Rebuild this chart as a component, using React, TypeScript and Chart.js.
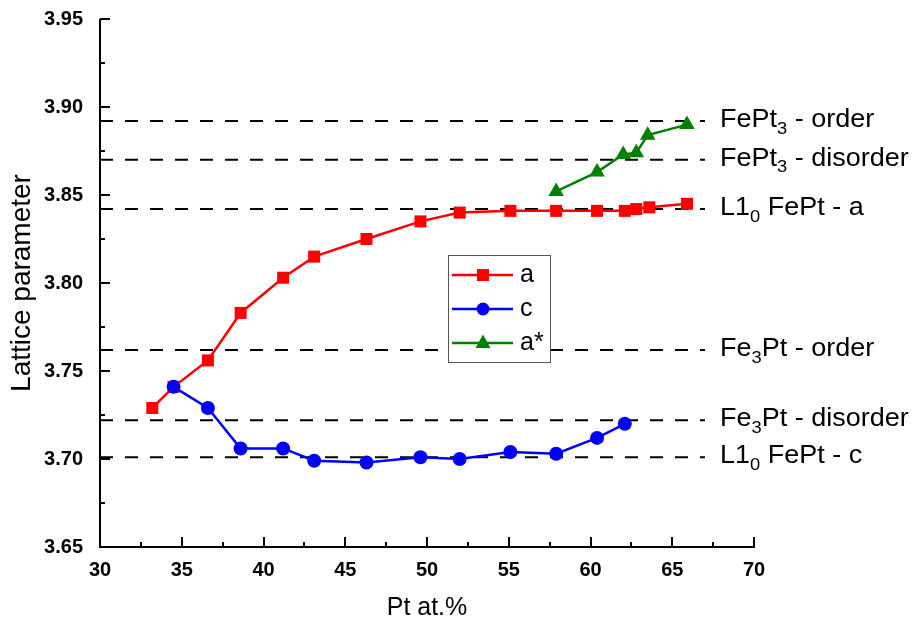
import { useEffect, useRef } from "react";
import { Chart, registerables } from "chart.js";

Chart.register(...registerables);

const FONT = "'Liberation Sans', Arial, sans-serif";

// Lattice parameter a (tetragonal / cubic) vs Pt content
const ptA = [33.2, 34.5, 36.6, 38.6, 41.2, 43.1, 46.3, 49.6, 52.0, 55.1, 57.9, 60.4, 62.1, 62.8, 63.6, 65.9];
const latA = [3.729, 3.741, 3.756, 3.783, 3.803, 3.815, 3.825, 3.835, 3.840, 3.841, 3.841, 3.841, 3.841, 3.842, 3.843, 3.845];

// Lattice parameter c
const ptC = [34.5, 36.6, 38.6, 41.2, 43.1, 46.3, 49.6, 52.0, 55.1, 57.9, 60.4, 62.1];
const latC = [3.741, 3.729, 3.706, 3.706, 3.699, 3.698, 3.701, 3.700, 3.704, 3.703, 3.712, 3.720];

// Lattice parameter a* (second phase)
const ptAStar = [57.9, 60.4, 62.0, 62.8, 63.5, 65.9];
const latAStar = [3.852, 3.863, 3.873, 3.874, 3.884, 3.890];

// Reference values of known phases
const refValues = [3.892, 3.870, 3.842, 3.762, 3.722, 3.701];
type Part = { t: string; sub?: boolean };
const refLabels: Part[][] = [
  [{ t: "FePt" }, { t: "3", sub: true }, { t: " - order" }],
  [{ t: "FePt" }, { t: "3", sub: true }, { t: " - disorder" }],
  [{ t: "L1" }, { t: "0", sub: true }, { t: " FePt - a" }],
  [{ t: "Fe" }, { t: "3", sub: true }, { t: "Pt - order" }],
  [{ t: "Fe" }, { t: "3", sub: true }, { t: "Pt - disorder" }],
  [{ t: "L1" }, { t: "0", sub: true }, { t: " FePt - c" }],
];
const refStart = 30;
const refEnd = 67;

const xMin = 30, xMax = 70, xStep = 5;
const yMin = 3.65, yMax = 3.95, yStep = 0.05;

const seriesNames = ["a", "c", "a*"];
const seriesColors = ["#ff0000", "#0000ff", "#008000"];
const seriesShapes = ["rect", "circle", "triangle"];

function drawMarker(ctx: CanvasRenderingContext2D, shape: string, x: number, y: number, color: string) {
  ctx.fillStyle = color;
  ctx.beginPath();
  if (shape === "rect") {
    ctx.rect(x - 6, y - 6, 12, 12);
  } else if (shape === "circle") {
    ctx.arc(x, y, 6.5, 0, Math.PI * 2);
  } else {
    ctx.moveTo(x, y - 8.5);
    ctx.lineTo(x - 7.5, y + 5);
    ctx.lineTo(x + 7.5, y + 5);
    ctx.closePath();
  }
  ctx.fill();
}

const inwardAxes = {
  id: "inwardAxes",
  afterDraw(chart: any) {
    const { ctx, chartArea, scales } = chart;
    const { left, right, top, bottom } = chartArea;
    const x = scales.x, y = scales.y;
    ctx.save();
    ctx.strokeStyle = "#000";
    ctx.lineWidth = 2;
    ctx.beginPath();
    ctx.moveTo(left, top);
    ctx.lineTo(left, bottom);
    ctx.lineTo(right + 1, bottom);
    ctx.stroke();
    ctx.beginPath();
    for (let v = xMin; v <= xMax + 1e-9; v += xStep / 2) {
      const major = Math.abs(((v - xMin) / xStep) - Math.round((v - xMin) / xStep)) < 1e-6;
      const px = Math.round(x.getPixelForValue(v));
      ctx.moveTo(px, bottom);
      ctx.lineTo(px, bottom - (major ? 10 : 5));
    }
    for (let v = yMin; v <= yMax + 1e-9; v += yStep / 2) {
      const major = Math.abs(((v - yMin) / yStep) - Math.round((v - yMin) / yStep)) < 1e-6;
      const py = Math.round(y.getPixelForValue(v));
      ctx.moveTo(left, py);
      ctx.lineTo(left + (major ? 10 : 5), py);
    }
    ctx.stroke();

    // Phase labels to the right of the reference lines (slightly wide lettering)
    ctx.fillStyle = "#000";
    ctx.textBaseline = "middle";
    ctx.textAlign = "left";
    const sx = 1.08;
    refValues.forEach((v, i) => {
      const py = y.getPixelForValue(v) - 1;
      const x0 = x.getPixelForValue(refEnd) + 15;
      ctx.save();
      ctx.translate(x0, py);
      ctx.scale(sx, 1);
      let px = 0;
      refLabels[i].forEach((p) => {
        if (p.sub) {
          ctx.font = `17px ${FONT}`;
          ctx.fillText(p.t, px, 9);
        } else {
          ctx.font = `25px ${FONT}`;
          ctx.fillText(p.t, px, 0);
        }
        px += ctx.measureText(p.t).width;
      });
      ctx.restore();
    });
    ctx.restore();
  },
};

const boxLegend = {
  id: "boxLegend",
  afterDatasetsDraw(chart: any) {
    const { ctx, chartArea } = chart;
    const bx = chartArea.left + 348;
    const by = chartArea.top + 236;
    const bw = 102;
    const bh = 107;
    ctx.save();
    ctx.fillStyle = "#fff";
    ctx.fillRect(bx, by, bw, bh);
    ctx.strokeStyle = "#555";
    ctx.lineWidth = 1;
    ctx.strokeRect(bx + 0.5, by + 0.5, bw, bh);
    seriesNames.forEach((name, i) => {
      const ly = by + 20 + i * 34;
      ctx.strokeStyle = seriesColors[i];
      ctx.lineWidth = 2.5;
      ctx.beginPath();
      ctx.moveTo(bx + 4, ly);
      ctx.lineTo(bx + 65, ly);
      ctx.stroke();
      drawMarker(ctx, seriesShapes[i], bx + 35, ly, seriesColors[i]);
      ctx.fillStyle = "#000";
      ctx.font = `25px ${FONT}`;
      ctx.textBaseline = "middle";
      ctx.textAlign = "left";
      ctx.fillText(name, bx + 72, ly);
    });
    ctx.restore();
  },
};

export default function App() {
  const ref = useRef<HTMLCanvasElement | null>(null);

  useEffect(() => {
    if (!ref.current) return;
    const toPts = (xs: number[], ys: number[]) => xs.map((v, i) => ({ x: v, y: ys[i] }));
    const refSets = refValues.map((v) => ({
      label: "ref",
      data: [
        { x: refStart, y: v },
        { x: refEnd, y: v },
      ],
      borderColor: "#000",
      borderWidth: 2,
      borderDash: [13, 12],
      pointRadius: 0,
      order: 10,
    }));
    const chart = new Chart(ref.current, {
      type: "line",
      data: {
        datasets: [
          {
            label: seriesNames[0],
            data: toPts(ptA, latA),
            borderColor: seriesColors[0],
            backgroundColor: seriesColors[0],
            borderWidth: 2.5,
            pointStyle: "rect",
            pointRadius: 8.5,
            pointBorderWidth: 0,
            order: 2,
          },
          {
            label: seriesNames[1],
            data: toPts(ptC, latC),
            borderColor: seriesColors[1],
            backgroundColor: seriesColors[1],
            borderWidth: 2.5,
            pointStyle: "circle",
            pointRadius: 7,
            pointBorderWidth: 0,
            order: 1,
          },
          {
            label: seriesNames[2],
            data: toPts(ptAStar, latAStar),
            borderColor: seriesColors[2],
            backgroundColor: seriesColors[2],
            borderWidth: 2.5,
            pointStyle: "triangle",
            pointRadius: 9,
            pointBorderWidth: 0,
            order: 3,
          },
          ...refSets,
        ],
      },
      options: {
        responsive: false,
        animation: false,
        layout: { padding: { top: 19, right: 160, bottom: 0, left: 0 } },
        plugins: { legend: { display: false }, tooltip: { enabled: false } },
        scales: {
          x: {
            type: "linear",
            min: xMin,
            max: xMax,
            afterFit: (s: any) => {
              s.height = 81;
              s.paddingLeft = 0;
              s.paddingRight = 0;
            },
            grid: { display: false, drawTicks: false },
            border: { display: false },
            ticks: {
              stepSize: xStep,
              padding: 11,
              maxRotation: 0,
              autoSkip: false,
              color: "#000",
              font: { family: FONT, size: 20, weight: "bold" },
            },
            title: {
              display: true,
              text: "Pt at.%",
              color: "#000",
              font: { family: FONT, size: 25 },
              padding: { top: 0, bottom: 5 },
            },
          },
          y: {
            type: "linear",
            min: yMin,
            max: yMax,
            afterFit: (s: any) => {
              s.width = 100;
              s.paddingTop = 0;
              s.paddingBottom = 0;
            },
            grid: { display: false, drawTicks: false },
            border: { display: false },
            ticks: {
              stepSize: yStep,
              padding: 17,
              color: "#000",
              font: { family: FONT, size: 20, weight: "bold" },
              callback: (v: any) => Number(v).toFixed(2),
            },
            title: {
              display: true,
              text: "Lattice parameter",
              color: "#000",
              font: { family: FONT, size: 28 },
              padding: { top: 5, bottom: 0 },
            },
          },
        },
      },
      plugins: [boxLegend, inwardAxes],
    });
    return () => chart.destroy();
  }, []);

  return (
    <div style={{ position: "absolute", left: 0, top: 0, width: 914, height: 628, background: "#fff" }}>
      <canvas ref={ref} width={914} height={628} />
    </div>
  );
}
